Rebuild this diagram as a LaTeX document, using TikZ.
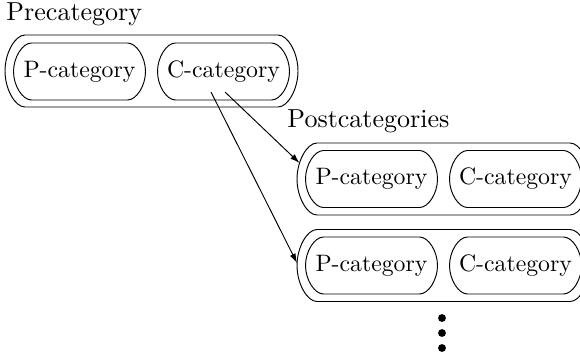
\documentclass[tikz,border=0pt]{standalone}
\usepackage{tikz}
\usetikzlibrary{arrows.meta,calc}
\colorlet{lin}{black}
\tikzset{
    oval/.style n args={3}{append after command={\pgfextra{
        \draw [lin] ($(\tikzlastnode.center)+(-#1,-#2)$) -- ++(2*#1,0)
            .. controls +(0.5*#3,0) and +(0,-0.5*#2) .. ++(#3,#2)
            .. controls +(0,0.5*#2) and +(0.5*#3,0) .. ++(-#3,#2)
            -- ++(-2*#1,0)
            .. controls +(-0.5*#3,0) and +(0,0.5*#2) .. ++(-#3,-#2)
            .. controls +(0,-0.5*#2) and +(-0.5*#3,0) .. ++(#3,-#2)
            -- cycle;
    }}},
    catbox/.style={inner sep=0pt,oval={48}{28.5}{18}},
    groupbox/.style={inner sep=0pt,oval={126.5}{36}{20}},
    grouplabel/.style={anchor=base west,inner sep=0pt,font=\fontsize{10.95}{13.6}\selectfont},
    dotmark/.style={lin,fill,circle,inner sep=0pt,minimum size=3.3pt},
    link/.style={lin,-{Latex[length=4pt,width=2.6pt]}}
}
\begin{document}
\begin{tikzpicture}[x=0.4207pt,y=-0.4207pt]
    \useasboundingbox (0,0) rectangle (580,358);
    \node [grouplabel] (prelabel) at (6,20) {Precategory};
    \node [groupbox] (pre) at (151.5,71) {};
    \node [catbox] (preP) at (79.5,71.5) {P-category};
    \node [catbox] (preC) at (223.5,71.5) {C-category};
    \node [grouplabel] (postlabel) at (287,127) {Postcategories};
    \foreach \i/\y in {1/179,2/265.5} {
        \node [groupbox] (post\i) at (443.5,\y) {};
        \node [catbox] (postP\i) at (371.5,\y) {P-category};
        \node [catbox] (postC\i) at (515.5,\y) {C-category};
    }
    \coordinate (from1) at ($(preC.center)+(1.5,20.5)$);
    \coordinate (from2) at ($(preC.center)+(-12.5,20.5)$);
    \coordinate (to1) at ($(post1.center)+(-144,-16)$);
    \coordinate (to2) at ($(post2.center)+(-146.5,-2.5)$);
    \draw [link] (from1) -- (to1);
    \draw [link] (from2) -- (to2);
    \foreach \i/\y in {1/318,2/333,3/348} {
        \node [dotmark] (dot\i) at (442,\y) {};
    }
\end{tikzpicture}
\end{document}
